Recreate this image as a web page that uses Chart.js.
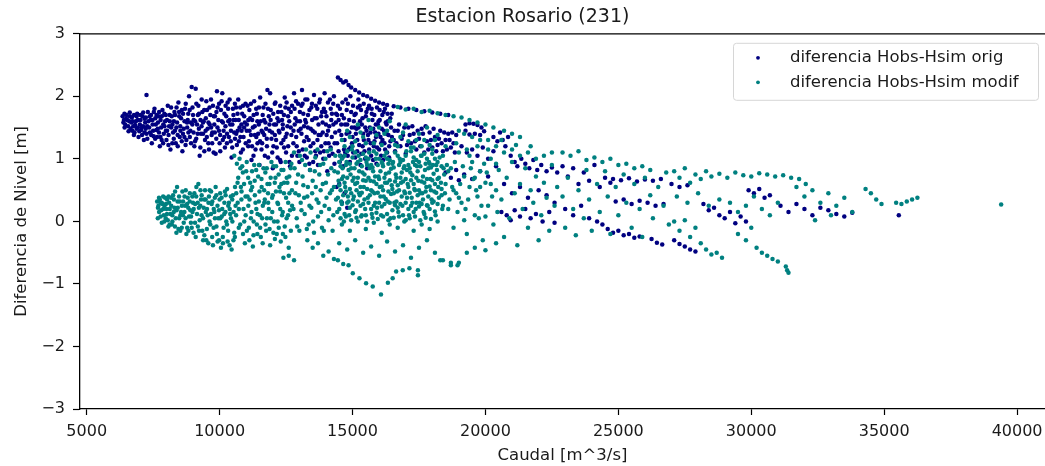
<!DOCTYPE html>
<html>
<head>
<meta charset="utf-8">
<title>Estacion Rosario (231)</title>
<script src="https://cdn.jsdelivr.net/npm/chart.js@4.4.1/dist/chart.umd.min.js"></script>
<style>
    html, body { margin: 0; padding: 0; background: #fff; }
    #wrap { width: 1045px; height: 466px; }
</style>
</head>
<body>
<div id="wrap"><canvas id="chart" width="1045" height="466"></canvas></div>
<script>
const chartTitle = 'Estacion Rosario (231)';
const xTitle = 'Caudal [m^3/s]';
const yTitle = 'Diferencia de Nivel [m]';
const seriesLabels = ['diferencia Hobs-Hsim orig', 'diferencia Hobs-Hsim modif'];
const seriesColors = ['#000080', '#008080'];

const xTicks = [5000, 10000, 15000, 20000, 25000, 30000, 35000, 40000];
const yTicks = [-3, -2, -1, 0, 1, 2, 3];

// [caudal, diferencia], serie original
const origPoints = [
    [6350,1.68],[6400,1.62],[6450,1.55],[6500,1.7],[6600,1.6],[6650,1.48],[6700,1.66],[6750,1.52],[6800,1.42],[6850,1.6],
    [6900,1.72],[6950,1.35],[7000,1.55],[7050,1.46],[7100,1.68],[7150,1.3],[7200,1.58],[7250,2.02],[7250,1.4],[7300,1.75],
    [7350,1.5],[7400,1.62],[7450,1.25],[7500,1.45],[7550,1.8],[7600,1.55],[7650,1.35],[7700,1.68],[7750,1.2],[7800,1.5],
    [7850,1.78],[7900,1.4],[7950,1.6],[8000,1.3],[8050,1.85],[8100,1.52],[8150,1.15],[8200,1.68],[8250,1.42],[8300,1.75],
    [8350,1.25],[8400,1.58],[8450,1.9],[8500,1.35],[8550,1.65],[8600,1.12],[8650,1.48],[8700,1.8],[8750,1.3],[8800,1.62],
    [8850,2.0],[8900,1.45],[8950,2.15],[9000,1.7],[9050,1.2],[9100,2.12],[9150,1.55],[9200,1.85],[9250,1.05],[9300,1.4],
    [9350,1.75],[9400,1.6],[9450,1.3],[9500,1.92],[9550,1.48],[9600,1.15],[9650,1.7],[9700,1.38],[9750,1.85],[9800,1.55],
    [9850,1.08],[9900,2.08],[9950,1.62],[10000,1.25],[10050,1.78],[10100,2.05],[10150,1.45],[10200,1.18],[10250,1.68],[10300,1.9],
    [10350,1.35],[10400,1.55],[10450,1.02],[10500,1.8],[10550,1.42],[10600,1.62],[10650,1.22],[10700,1.95],[10750,1.5],[10800,1.1],
    [10850,1.72],[10900,1.35],[10950,1.58],[11050,1.85],[11100,1.28],[11150,1.65],[11200,0.98],[11250,1.5],[11300,1.92],[11350,1.15],
    [11400,1.72],[11450,1.4],[11500,0.9],[11550,1.6],[11600,1.25],[11650,1.82],[11700,1.05],[11750,1.48],[11800,2.1],[11850,1.68],
    [11900,2.05],[11950,1.32],[12000,0.85],[12050,1.55],[12100,1.9],[12150,1.18],[12200,1.75],[12250,1.42],[12300,0.95],[12350,1.62],
    [12400,1.3],[12450,1.98],[12500,1.1],[12550,1.52],[12600,1.8],[12650,0.88],[12700,1.38],[12800,2.05],[12850,1.65],[12900,1.2],
    [12950,1.88],[13000,0.95],[13050,1.48],[13100,2.1],[13150,1.72],[13200,1.05],[13250,1.58],[13300,1.95],[13350,1.3],[13400,0.82],
    [13450,1.82],[13500,1.45],[13550,2.02],[13600,1.12],[13650,1.65],[13700,0.9],[13750,1.9],[13800,1.38],[13850,1.75],[13900,1.0],
    [13950,2.05],[14000,1.55],[14050,0.8],[14100,1.25],[14150,1.95],[14200,1.62],[14250,1.08],[14300,2.0],[14350,1.42],
    [6380,1.58],[6420,1.72],[6480,1.64],[6560,1.52],[6620,1.74],[6680,1.58],[6720,1.45],[6780,1.7],[6820,1.54],[6880,1.48],
    [6920,1.62],[6980,1.44],[7020,1.7],[7080,1.38],[7120,1.52],[7180,1.64],[7220,1.48],[7280,1.32],[7320,1.6],[7380,1.42],
    [7420,1.7],[7480,1.55],[7520,1.36],[7580,1.65],[7620,1.46],[7680,1.58],
    [7720,1.42],[7780,1.62],[7820,1.3],[7880,1.55],[7920,1.72],[7980,1.45],[8020,1.62],[8080,1.38],[8120,1.7],[8180,1.5],
    [8220,1.25],[8280,1.6],[8320,1.45],[8380,1.82],[8420,1.38],[8480,1.68],[8520,1.52],[8580,1.78],[8620,1.4],[8680,1.6],
    [8720,1.22],[8780,1.5],[8820,1.72],[8880,1.35],[8920,1.58],[8980,1.82],[9020,1.42],[9080,1.6],[9120,1.32],[9180,1.7],
    [9220,1.48],[9280,1.62],
    [6425,1.5],[6525,1.62],[6575,1.44],[6625,1.68],[6725,1.6],[6775,1.38],[6875,1.68],[6925,1.5],[7025,1.62],[7075,1.5],
    [7125,1.74],[7175,1.42],[7225,1.66],[7275,1.52],[7375,1.68],[7425,1.38],[7475,1.62],[7525,1.75],[7575,1.32],[7625,1.7],
    [7675,1.48],[7725,1.75],[7775,1.35],[7825,1.68],[7875,1.25],[7925,1.52],[7975,1.7],[8025,1.45],[8075,1.22],[8125,1.6],
    [8175,1.82],[8225,1.55],[8275,1.32],[8325,1.7],[8375,1.5],[8425,1.2],[8475,1.75],[8525,1.45],[8575,1.28],[8625,1.72],
    [8675,1.35],[8725,1.88],[8775,1.58],[8825,1.42],[8875,1.78],[8925,1.25],[8975,1.55],
    [9320,1.52],[9380,1.4],[9420,1.78],[9480,1.65],[9520,1.35],[9580,1.58],[9620,1.82],[9680,1.5],[9720,1.25],[9780,1.68],
    [9820,1.42],[9880,1.75],[9920,1.5],[9980,1.88],[10020,1.38],[10080,1.6],[10120,1.3],[10180,1.72],[10220,1.52],[10280,1.4],
    [10320,1.8],[10380,1.62],[10420,1.28],[10480,1.55],[10520,1.7],[10580,1.32],[10620,1.82],[10680,1.45],[10720,1.62],[10780,1.35],
    [10820,1.55],[10880,1.85],[10920,1.5],[10980,1.25],
    [9025,1.62],[9075,1.28],[9125,1.88],[9175,1.4],[9225,1.72],[9275,1.18],[9325,1.95],[9375,1.58],[9425,1.12],[9475,1.45],
    [9525,1.78],[9575,1.25],[9625,1.55],[9675,1.95],[9725,1.42],[9775,1.1],[9825,1.68],[9875,1.32],[9925,1.82],[9975,1.45],
    [10025,1.12],[10075,1.92],[10125,1.58],[10175,1.35],[10225,1.85],[10275,1.25],[10325,1.6],[10375,1.95],[10425,1.45],[10475,1.18],
    [10525,1.62],[10575,1.88],[10625,1.4],[10675,1.72],[10725,1.28],[10775,1.82],[10825,1.45],[10875,1.15],[10925,1.68],[10975,1.88],
    [11020,1.45],[11080,1.62],[11120,1.78],[11180,1.38],[11220,1.2],[11280,1.7],[11320,1.52],[11380,1.35],[11420,1.6],[11480,1.82],
    [11520,1.28],[11580,1.45],[11620,1.7],[11680,1.38],[11720,1.58],[11780,1.2],[11820,1.8],[11880,1.45],[11920,1.62],[11980,1.1],
    [12020,1.72],[12080,1.38],[12120,1.55],[12180,1.02],[12220,1.6],[12280,1.85],[12320,1.25],[12380,1.48],[12420,1.7],[12480,1.35],
    [12520,1.9],[12580,1.2],[12620,1.6],[12680,1.75],[12720,1.05],
    [11025,1.55],[11075,1.2],[11125,1.45],[11175,1.88],[11225,1.62],[11275,1.05],[11325,1.38],[11375,1.8],[11425,1.25],[11475,1.55],
    [11525,1.98],[11575,1.15],[11625,1.42],[11675,1.62],[11725,1.88],[11775,1.32],[11825,1.02],[11875,1.55],[11925,1.78],[11975,1.42],
    [12025,1.2],[12075,1.88],[12125,1.3],[12175,1.65],[12225,1.45],[12275,0.98],[12325,1.75],[12375,1.55],[12425,1.18],[12475,1.82],
    [12525,1.4],[12575,1.68],[12625,0.95],[12675,1.5],[12725,1.85],
    [12780,1.45],[12820,1.8],[12880,1.35],[12920,1.6],[12980,1.12],[13020,1.75],[13080,1.4],[13120,1.88],[13180,1.28],[13220,1.62],
    [13280,1.02],[13320,1.5],[13380,1.78],[13420,1.2],[13480,1.62],[13520,0.95],[13580,1.42],[13620,1.85],[13680,1.3],[13720,1.55],
    [13780,1.1],[13820,1.68],[13880,1.42],[13920,1.8],[13980,1.25],[14020,1.68],[14080,1.45],[14120,1.05],[14180,1.8],[14220,1.35],
    [14280,1.55],[14320,0.92],[14380,1.72],
    [12775,1.25],[12825,1.55],[12875,1.92],[12925,1.05],[12975,1.45],[13025,1.6],[13075,1.85],[13125,1.15],[13175,1.52],[13225,1.95],
    [13275,1.35],[13325,1.7],[13375,0.92],[13425,1.48],[13475,1.88],[13525,1.25],[13575,1.65],[13625,1.05],[13675,1.8],[13725,1.38],
    [13775,1.95],[13825,1.2],[13875,1.58],[13925,1.12],[13975,1.75],[14025,1.38],[14075,1.9],[14125,1.52],[14175,1.18],[14225,1.72],
    [14275,1.88],[14325,1.25],[14375,1.58],
    [14450,2.3],[14550,2.26],[14650,2.22],[14750,2.24],[14850,2.18],[14950,2.14],[15100,2.1],[15250,2.06],[15400,2.02],[15550,2.0],
    [15700,1.96],[15850,1.93],[16000,1.9],[16150,1.88],[16300,1.86],
    [14450,1.85],[14500,1.45],[14550,1.05],[14600,1.7],[14650,0.88],[14700,1.3],[14750,1.95],[14800,1.55],[14850,1.15],[14900,0.95],
    [14950,1.75],[15000,1.35],[15050,1.6],[15100,1.02],[15150,1.48],[15200,1.82],[15250,1.22],[15300,0.9],[15350,1.55],[15400,1.4],
    [15450,1.12],[15500,1.68],[15550,0.85],[15600,1.3],[15650,1.5],[15700,1.05],[15750,1.62],[15800,1.2],[15850,1.42],[15900,0.92],
    [15950,1.55],[16000,1.15],[16050,1.35],[16100,1.48],[16150,0.98],[16200,1.25],[16250,1.58],[16300,1.1],[16350,1.38],[16450,1.5],
    [14420,1.25],[14480,1.62],[14520,0.95],[14580,1.38],[14620,1.9],[14680,1.15],[14720,1.55],[14780,1.78],[14820,1.05],[14880,1.42],
    [14920,2.0],[14980,1.25],[15020,1.85],[15080,1.5],[15120,1.72],[15180,1.3],[15220,1.95],[15280,1.6],[15320,1.78],[15380,1.2],
    [15420,1.88],[15480,1.5],[15520,1.75],[15580,1.38],[15620,1.85],[15680,1.25],[15720,1.8],[15780,1.48],[15820,1.7],[15880,1.35],
    [15920,1.82],[15980,1.6],[16020,1.78],[16080,1.25],[16120,1.7],[16180,1.45],[16220,1.8],[16280,1.55],[16320,1.72],[16380,1.2],
    [16420,1.65],[16480,1.35],
    [14425,1.7],[14475,1.12],[14525,1.8],[14575,1.55],[14625,1.02],[14675,1.65],[14725,1.1],[14775,1.4],[14825,1.88],[14875,1.62],
    [14925,1.18],[14975,1.5],[15025,1.1],[15075,1.7],[15125,1.4],[15175,1.12],[15225,1.5],[15275,1.85],[15325,1.08],[15375,1.65],
    [15425,1.3],[15475,1.0],[15525,1.45],[15575,1.8],[15625,1.15],[15675,1.42],[15725,1.72],[15775,0.98],[15825,1.28],[15875,1.55],
    [15925,1.18],[15975,1.4],[16025,1.62],[16075,1.05],[16125,1.3],[16175,1.75],[16225,1.15],[16275,1.4],[16325,1.6],[16375,1.02],
    [16425,1.28],[16475,1.72],
    [14400,0.55],[14500,0.6],[14600,0.3],[14700,0.45],[14800,0.22],
    [16550,1.84],[16800,1.82],[17100,1.8],[17400,1.78],[17700,1.76],[18000,1.74],[18300,1.72],[18600,1.7],
    [16550,1.3],[16600,1.12],[16700,1.45],[16800,1.2],[16900,1.38],[17000,1.08],[17100,1.5],[17200,1.25],[17300,1.4],[17400,1.15],
    [17500,1.32],[17600,1.48],[17700,1.1],[17800,1.28],[17900,1.42],[18000,1.18],[18100,1.35],[18200,1.22],[18300,1.45],[18400,1.12],
    [18500,1.3],[18600,1.4],[18700,1.18],[18800,1.25],[18900,1.38],
    [16580,1.45],[16650,1.25],[16750,1.55],[16850,1.32],[16950,1.5],[17050,1.22],[17150,1.38],[17250,1.52],[17350,1.28],[17450,1.45],
    [17550,1.2],[17650,1.4],[17750,1.52],[17850,1.15],[17950,1.3],[18050,1.48],[18150,1.12],[18250,1.32],[18350,1.25],[18450,1.42],
    [18550,1.15],[18650,1.3],[18750,1.42],[18850,1.1],
    [18500,0.78],[18700,0.7],[18900,0.82],[19000,0.66],
    [19250,1.55],[19400,1.57],[19550,1.56],[19700,1.54],[19850,1.5],[19950,1.44],[19800,1.38],[19600,1.4],[19400,1.39],[19250,1.45],
    [19100,1.2],[19300,1.1],[19500,1.15],[19700,1.05],[19900,1.18],[20100,1.0],[20300,1.12],[20450,1.28],[20300,1.35],
    [19200,0.75],[19500,0.68],[19800,0.8],[20100,0.72],[20400,0.88],
    [20550,1.42],[20650,1.3],[20750,1.2],[20850,1.35],[20950,1.05],[21100,0.95],[21200,0.88],[21350,1.0],[21500,0.92],[21650,0.85],
    [21800,0.98],[21950,0.82],[22100,0.9],[22300,0.8],[22500,0.86],[22700,0.78],
    [20600,0.15],[20800,0.1],[20950,0.02],[21100,0.18],[21300,0.08],[21500,0.2],[21700,0.05],[21900,0.12],[22150,0.0],[22400,0.15],
    [22600,-0.02],[20700,0.6],[21000,0.45],[21300,0.55],[21600,0.38],[22000,0.5],[22300,0.42],[22600,0.3],
    [22900,0.88],[23100,0.72],[23300,0.85],[23500,0.6],[23700,0.78],[23900,0.65],[24100,0.9],[24300,0.55],[24500,0.7],[24700,0.62],
    [23000,0.2],[23300,0.1],[23600,0.25],[23900,0.05],[24200,0.0],[24400,-0.05],[24600,-0.12],[24800,-0.18],[25000,-0.15],[25200,-0.22],
    [25400,-0.2],[25600,-0.26],[25800,-0.24],
    [24800,0.68],[25100,0.66],[25400,0.69],[25700,0.64],[26000,0.67],[26300,0.65],[26600,0.68],
    [24900,0.32],[25200,0.35],[25500,0.28],[25800,0.33],[26100,0.3],[26400,0.25],[26700,0.28],
    [26250,-0.28],[26450,-0.34],[26650,-0.37],[27100,-0.3],[27300,-0.36],[27500,-0.4],[27700,-0.45],[27900,-0.48],
    [27000,0.6],[27300,0.55],[27600,0.58],
    [28200,0.28],[28400,0.18],[28600,0.22],[28800,0.1],[29000,0.05],[29200,0.15],[29400,-0.03],[29600,0.08],[29800,0.0],
    [29900,0.5],[30100,0.45],[30300,0.52],[30500,0.38],[30700,0.42],
    [31100,0.25],[31400,0.15],[31700,0.28],[32000,0.2],[32300,0.1],[32600,0.22],[32900,0.18],[33200,0.12],[33500,0.08],[33800,0.14],
    [35550,0.1]
];

// [caudal, diferencia], serie modificada
const modifPoints = [
    [7650,0.32],[7700,0.25],[7750,0.35],[7800,0.18],[7850,0.28],[7900,0.1],[7950,0.38],[8000,0.2],[8050,0.02],[8100,0.3],
    [8150,0.12],[8200,-0.05],[8250,0.42],[8300,0.22],[8350,0.05],[8400,0.55],[8450,-0.12],[8500,0.32],[8550,0.15],[8600,0.48],
    [8650,-0.02],[8700,0.25],[8750,-0.2],[8800,0.38],[8850,0.08],[8900,0.18],[8950,-0.1],[9000,0.3],[9050,0.45],[9100,-0.25],
    [9150,0.12],[9200,0.6],[9250,0.02],[9300,0.35],[9350,-0.15],[9400,0.22],[9450,0.5],[9500,-0.3],[9550,0.1],[9600,0.4],
    [9650,-0.05],[9700,0.28],[9750,-0.38],[9800,0.15],[9850,0.55],[9900,-0.2],[9950,0.05],[10000,0.35],[10050,-0.42],[10100,0.2],
    [10150,-0.1],[10200,0.48],[10250,0.0],[10300,-0.32],[10350,0.3],[10400,0.12],[10450,-0.45],[10500,0.42],[10550,-0.18],[10600,0.25],
    [7680,0.22],[7720,0.38],[7780,0.08],[7820,0.3],[7880,0.2],[7920,0.0],[7980,0.28],[8020,0.12],[8080,0.4],[8120,-0.05],
    [8180,0.25],[8220,0.1],[8280,0.35],[8320,-0.08],[8380,0.18],[8420,0.32],[8480,0.05],[8520,-0.15],[8580,0.25],[8620,0.1],
    [8680,0.4],[8720,0.05],[8780,-0.1],[8820,0.22],[8880,0.45],[8920,-0.02],[8980,0.15],[9020,-0.18],[9080,0.28],[9120,0.4],
    [9180,-0.08],[9220,0.22],[9280,0.5],[9320,0.1],[9380,-0.3],[9420,0.35],[9480,0.15],[9520,-0.12],[9580,0.3],[9620,0.0],
    [9680,0.48],[9720,-0.25],[9780,0.2],[9820,0.38],[9880,-0.08],[9920,0.25],[9980,-0.3],[10020,0.45],[10080,0.08],[10120,-0.25],
    [10180,0.3],[10220,0.15],[10280,0.52],[10320,-0.15],[10380,0.2],[10420,0.4],[10480,0.0],[10520,-0.3],[10580,0.55],[10620,0.1],
    [7675,0.05],[7725,0.15],[7775,0.3],[7825,-0.02],[7875,0.4],[7925,0.25],[7975,0.05],[8025,0.35],[8075,-0.08],[8125,0.2],
    [8175,0.38],[8225,0.0],[8275,0.15],[8325,0.48],[8375,-0.18],[8425,0.22],[8475,0.4],[8525,0.1],[8575,-0.1],[8625,0.32],
    [8675,0.15],[8725,0.5],[8775,0.28],[8825,-0.15],[8875,0.32],[8925,0.08],[8975,0.4],[9025,0.2],[9075,-0.02],[9125,0.55],
    [9175,0.3],[9225,-0.15],[9275,0.25],[9325,0.42],[9375,0.05],[9425,-0.22],[9475,0.35],[9525,0.2],[9575,-0.35],[9625,0.5],
    [9675,0.12],[9725,0.32],[9775,-0.1],[9825,0.05],[9875,0.42],[9925,-0.32],[9975,0.18],[10025,0.05],[10075,0.38],[10125,-0.35],
    [10175,0.12],[10225,0.42],[10275,-0.05],[10325,0.25],[10375,-0.38],[10425,0.05],[10475,0.35],[10525,0.15],[10575,-0.25],[10625,0.45],
    [10550,1.05],[10650,0.92],[10750,1.0],[10850,0.88],[10700,0.7],[10800,0.55],[10900,0.2],[10950,-0.35],[11000,0.8],[11050,0.4],
    [11100,-0.1],[11150,0.62],[11200,0.15],[11250,-0.4],[11300,0.9],[11350,0.3],[11400,-0.05],[11450,0.72],[11500,0.48],[11550,-0.25],
    [11600,0.05],[11650,0.85],[11700,0.35],[11750,-0.15],[11800,0.6],[11850,0.2],[11900,-0.38],[11950,0.95],[12000,0.42],[12050,0.0],
    [12100,0.7],[12150,-0.2],[12200,0.28],[12250,0.55],[12300,-0.32],[12350,0.1],[12400,0.82],[12450,-0.08],[12500,0.38],[12550,0.62],
    [12600,-0.42],[12650,0.18],[12700,0.92],[12400,-0.58],[12600,-0.55],[12800,-0.62],
    [10680,0.3],[10720,-0.1],[10780,0.85],[10820,0.35],[10880,-0.2],[10920,0.6],[10980,0.1],[11020,0.95],[11080,0.25],[11120,-0.3],
    [11180,0.5],[11220,0.8],[11280,0.0],[11320,0.65],[11380,0.2],[11420,-0.2],[11480,0.9],[11520,0.1],[11580,0.55],[11620,-0.35],
    [11680,0.3],[11720,0.78],[11780,0.05],[11820,0.45],[11880,-0.12],[11920,0.7],[11980,0.15],[12020,0.88],[12080,-0.28],[12120,0.48],
    [12180,0.0],[12220,0.75],[12280,0.2],[12320,0.6],[12380,-0.2],[12420,0.45],[12480,0.95],[12520,0.05],[12580,0.3],[12620,0.72],
    [12680,-0.15],[12720,0.5],
    [10675,0.62],[10725,0.2],[10775,-0.05],[10825,0.48],[10875,0.78],[10925,0.0],[10975,0.4],[11025,-0.15],[11075,0.7],[11125,0.35],
    [11175,0.05],[11225,0.55],[11275,-0.22],[11325,0.42],[11375,0.82],[11425,0.12],[11475,0.32],[11525,-0.1],[11575,0.68],[11625,0.25],
    [11675,0.5],[11725,-0.05],[11775,0.85],[11825,0.3],[11875,0.6],[11925,0.05],[11975,0.38],[12025,-0.18],[12075,0.62],[12125,0.88],
    [12175,0.3],[12225,-0.1],[12275,0.48],[12325,0.82],[12375,0.15],[12425,0.62],[12475,-0.25],[12525,0.7],[12575,0.1],[12625,0.45],
    [12675,0.85],[12725,0.25],
    [12800,1.1],[12850,0.45],[12900,0.05],[12950,0.75],[13000,-0.15],[13050,0.3],[13100,0.98],[13150,0.58],[13200,0.12],[13250,1.15],
    [13300,0.4],[13350,-0.05],[13400,0.82],[13450,0.22],[13500,0.65],[13550,-0.18],[13600,1.02],[13650,0.35],[13700,0.08],[13750,0.75],
    [13800,0.5],[13850,-0.1],[13900,0.92],[13950,0.25],[14000,0.62],[14050,1.12],[14100,0.02],[14150,0.45],[14200,0.85],[14250,-0.15],
    [14300,0.55],[14350,1.05],
    [12780,0.2],[12820,0.85],[12880,0.62],[12920,-0.08],[12980,0.42],[13020,1.05],[13080,0.18],[13120,0.72],[13180,0.38],[13220,0.9],
    [13280,-0.12],[13320,0.55],[13380,0.25],[13420,1.1],[13480,0.45],[13520,0.0],[13580,0.8],[13620,0.55],[13680,1.15],[13720,0.3],
    [13780,0.9],[13820,0.15],[13880,0.6],[13920,-0.15],[13980,1.0],[14020,0.38],[14080,0.75],[14120,0.2],[14180,1.15],[14220,0.5],
    [14280,0.1],[14320,0.8],[14380,0.35],
    [13300,-0.3],[13500,-0.42],[13700,-0.35],[13900,-0.55],[14100,-0.48],[14300,-0.6],
    [14500,0.95],[14700,1.05],[14900,0.92],[15100,1.1],[15300,0.98],[15500,1.02],[15700,0.9],[15900,1.08],[16100,0.95],[16300,1.0],
    [16500,0.92],[16700,1.05],[16900,0.98],[17100,0.9],[17300,1.02],[17500,0.95],[17700,1.08],[17900,0.92],[18100,1.0],
    [14600,1.0],[14800,1.12],[15000,1.02],[15200,0.95],[15400,1.08],[15600,1.0],[15800,1.12],[16000,1.0],[16200,1.05],[16400,0.98],
    [16600,1.1],[16800,0.95],[17000,1.05],[17200,1.12],[17400,0.98],[17600,1.05],[17800,1.0],[18000,1.08],[18200,0.95],
    [14550,0.88],[14750,0.9],[14950,0.85],[15150,0.92],[15350,0.88],[15550,0.9],[15750,0.86],[15950,0.9],[16150,0.88],[16350,0.92],
    [16550,0.86],[16750,0.9],[16950,0.88],[17150,0.85],[17350,0.9],[17550,0.88],[17750,0.92],[17950,0.86],[18150,0.9],[18350,0.88],
    [14450,0.78],[14650,0.72],[14850,0.82],[15050,0.7],[15250,0.8],[15450,0.75],[15650,0.85],[15850,0.72],[16050,0.8],[16250,0.76],
    [16450,0.84],[16650,0.7],[16850,0.78],[17050,0.82],[17250,0.74],[17450,0.8],[17650,0.72],[17850,0.85],[18050,0.76],[18250,0.7],
    [14600,0.68],[14800,0.7],[15000,0.65],[15200,0.7],[15400,0.66],[15600,0.7],[15800,0.64],[16000,0.68],[16200,0.7],[16400,0.66],
    [16600,0.64],[16800,0.7],[17000,0.68],[17200,0.66],[17400,0.7],[17600,0.64],[17800,0.68],[18000,0.66],[18200,0.68],
    [14500,0.58],[14700,0.62],[14900,0.52],[15100,0.6],[15300,0.55],[15500,0.65],[15700,0.5],[15900,0.6],[16100,0.56],[16300,0.62],
    [16500,0.52],[16700,0.58],[16900,0.64],[17100,0.55],[17300,0.6],[17500,0.5],[17700,0.62],[17900,0.56],[18100,0.6],
    [14550,0.5],[14750,0.48],[14950,0.45],[15150,0.5],[15350,0.46],[15550,0.52],[15750,0.48],[15950,0.46],[16150,0.5],[16350,0.48],
    [16550,0.45],[16750,0.5],[16950,0.48],[17150,0.46],[17350,0.5],[17550,0.45],[17750,0.48],[17950,0.5],[18150,0.46],[18350,0.52],
    [14450,0.38],[14650,0.42],[14850,0.32],[15050,0.4],[15250,0.45],[15450,0.35],[15650,0.42],[15850,0.3],[16050,0.4],[16250,0.36],
    [16450,0.44],[16650,0.32],[16850,0.4],[17050,0.38],[17250,0.3],[17450,0.42],[17650,0.35],[17850,0.4],[18050,0.32],[18250,0.38],
    [14600,0.28],[14800,0.3],[15000,0.26],[15200,0.32],[15400,0.28],[15600,0.3],[15800,0.25],[16000,0.3],[16200,0.28],[16400,0.3],
    [16600,0.26],[16800,0.28],[17000,0.3],[17200,0.25],[17400,0.3],[17600,0.28],[17800,0.26],[18000,0.3],[18200,0.28],
    [14500,0.2],[14700,0.12],[14900,0.22],[15100,0.15],[15300,0.25],[15500,0.1],[15700,0.2],[15900,0.14],[16100,0.24],[16300,0.12],
    [16500,0.18],[16700,0.22],[16900,0.1],[17100,0.2],[17300,0.15],[17500,0.24],[17700,0.12],[17900,0.2],[18100,0.16],
    [14550,0.05],[14750,0.08],[14950,0.02],[15150,0.06],[15350,0.1],[15550,0.0],[15750,0.06],[15950,0.04],[16150,0.08],[16350,0.02],
    [16550,0.06],[16750,0.08],[16950,0.0],[17150,0.05],[17350,0.08],[17550,0.02],[17750,0.06],[17950,0.04],
    [14425,0.15],[14475,0.65],[14525,1.05],[14575,0.32],[14625,0.85],[14675,0.0],[14725,0.55],[14775,0.95],[14825,0.4],[14875,0.1],
    [14925,0.75],[14975,1.15],[15025,0.35],[15075,0.85],[15125,0.18],[15175,0.62],[15225,1.05],[15275,0.42],[15325,0.08],[15375,0.78],
    [15425,0.55],[15475,0.2],[15525,0.95],[15575,0.38],[15625,1.1],[15675,0.65],[15725,0.12],[15775,0.8],[15825,0.45],[15875,1.0],
    [15925,0.22],[15975,0.72],[16025,0.55],[16075,0.1],[16125,0.92],[16175,0.4],[16225,0.62],[16275,1.1],[16325,0.32],[16375,0.78],
    [16425,0.05],[16475,0.58],[16525,0.95],[16575,0.3],[16625,0.75],[16675,0.48],[16725,0.15],[16775,1.0],[16825,0.62],[16875,0.25],
    [16925,0.85],[16975,0.45],[17025,1.12],[17075,0.6],[17125,0.1],[17175,0.78],[17225,0.38],[17275,0.95],[17325,0.52],[17375,0.2],
    [17425,0.88],[17475,0.65],[17525,0.3],[17575,1.05],[17625,0.45],[17675,0.15],[17725,0.82],[17775,0.55],[17825,0.25],[17875,0.95],
    [17925,0.68],[17975,0.35],[18025,0.9],[18075,0.48],[18125,0.1],[18175,0.82],[18225,0.55],[18275,1.02],[18325,0.62],[18375,0.2],
    [18425,0.85],[18475,0.45],
    [14600,-0.05],[14900,-0.15],[15200,0.0],[15500,-0.12],[15800,-0.02],[16100,-0.18],[16400,-0.05],[16700,-0.1],[17000,0.02],[17300,-0.15],
    [17600,-0.05],[17900,-0.12],[18200,0.0],
    [14500,-0.35],[14800,-0.45],[15100,-0.3],[15400,-0.5],[15700,-0.4],[16000,-0.55],[16300,-0.32],[16600,-0.48],[16900,-0.38],[17200,-0.58],
    [17500,-0.42],[17800,-0.3],[18100,-0.5],[18400,-0.62],[18700,-0.66],[18950,-0.7],
    [14450,-0.62],[14650,-0.68],[14850,-0.7],[15010,-0.83],[15260,-0.91],[15510,-0.99],[15760,-1.04],[16070,-1.17],[16330,-0.98],[16510,-0.91],
    [16640,-0.8],[16890,-0.78],[17140,-0.75],[17460,-0.78],[17460,-0.86],
    [14600,1.3],[14800,1.45],[15000,1.2],[15200,1.55],[15400,1.35],[15600,1.62],[15800,1.25],[16000,1.5],[16200,1.4],[16400,1.6],
    [16600,1.22],[16800,1.35],[17000,1.55],[17200,1.18],[17400,1.3],[17600,1.2],[17800,1.5],[18000,1.15],[18200,1.38],
    [14700,1.2],[14900,1.35],[15100,1.28],[15300,1.42],[15500,1.25],[15700,1.48],[15900,1.38],[16100,1.22],[16300,1.45],[16500,1.3],
    [16700,1.2],[16900,1.42],[17100,1.28],[17300,1.18],[17500,1.4],[17700,1.3],[17900,1.22],[18100,1.3],
    [16700,1.83],[17000,1.79],[17300,1.8],[17600,1.75],[17900,1.77],[18200,1.73],[18500,1.7],[18800,1.68],[19100,1.66],[19400,1.62],
    [19700,1.58],[20000,1.55],[20300,1.5],[20700,1.45],[21000,1.4],[21300,1.35],
    [19000,1.45],[19200,1.4],[19500,1.35],[19800,1.3],[20100,1.15],[20400,1.2],[20700,1.1],[21000,1.15],[21300,1.05],[21600,1.1],
    [21900,1.0],[22200,1.05],[22500,1.1],[20600,1.3],[21150,1.22],[21700,1.2],
    [18400,1.05],[18500,0.6],[18600,0.2],[18700,0.85],[18800,-0.1],[18900,0.45],[19000,1.1],[19100,0.3],[19200,0.72],[19300,-0.2],
    [19400,0.55],[19500,0.95],[19600,0.1],[19700,0.4],[19800,0.8],[19900,-0.3],[20000,0.62],[20100,0.25],[20200,1.0],[20300,-0.05],
    [20400,0.5],[20500,0.82],[20600,0.35],[20700,-0.25],[20800,0.7],[20900,0.05],[21000,0.95],[21100,0.45],[21200,-0.38],[21300,0.6],
    [21400,0.2],[21500,0.85],[21600,-0.1],[21700,0.5],[21800,0.3],[21900,0.72],[22000,-0.3],[22100,0.1],[22200,0.62],[22300,0.38],
    [22400,-0.15],[22500,0.9],[22600,0.25],[22700,0.55],
    [18350,0.42],[18550,0.9],[18750,0.55],[18950,0.15],[19150,0.88],[19350,0.35],[19550,0.68],[19750,0.05],[19950,0.92],
    [18450,0.75],[18650,0.35],[18850,0.95],[19050,0.6],[19250,0.2],[19450,0.85],[19650,0.5],[19850,0.25],[20050,0.78],[20250,0.4],
    [20450,0.15],[18400,0.25],[18600,0.8],[18800,0.5],[19000,0.38],[19200,0.02],[19400,1.05],[19600,0.7],[19800,0.55],[20000,0.08],
    [20200,0.6],[20400,0.92],[18500,1.2],[18900,1.25],[19300,1.15],[19700,1.2],[20100,1.3],
    [18300,-0.62],[18700,-0.7],[19000,-0.66],[19300,-0.5],[19600,-0.42],[20000,-0.46],[20400,-0.35],
    [22900,1.1],[23200,1.05],[23500,1.12],[23800,0.98],[24100,1.02],[24400,0.95],[24700,1.0],[25000,0.9],[25300,0.92],[25600,0.85],
    [25900,0.88],[26200,0.82],
    [22900,0.4],[23000,-0.1],[23100,0.7],[23300,0.2],[23400,-0.22],[23500,0.5],[23700,0.05],[23800,0.82],[23900,0.35],[24000,-0.15],
    [24200,0.6],[24300,0.15],[24500,0.8],[24600,0.4],[24700,-0.2],[24900,0.55],[25000,0.1],[25200,0.75],[25300,0.3],[25500,-0.1],
    [25600,0.6],[25800,0.2],[25900,-0.25],[26000,0.7],[26200,0.42],[26300,0.05],[26500,0.55],[26700,0.25],[26800,0.78],[26900,-0.05],
    [27100,0.8],[27300,0.7],[27500,0.85],[27700,0.62],[27900,0.75],[28100,0.68],[28300,0.8],
    [27100,0.0],[27300,-0.15],[27500,0.02],[27700,-0.25],[27900,-0.1],[28100,-0.35],[28300,-0.45],[28500,-0.53],[28700,-0.5],[28900,-0.58],
    [27200,0.4],[27600,0.3],[28000,0.45],[28400,0.25],[28800,0.35],
    [28500,0.72],[28800,0.76],[29100,0.7],[29400,0.78],[29700,0.74],[30000,0.72],[30300,0.77],[30600,0.75],[30900,0.72],[31200,0.74],
    [31500,0.7],[31800,0.68],[32050,0.6],
    [29200,0.3],[29500,0.15],[29800,0.25],[30100,0.4],[30400,0.2],[30700,0.1],[31000,0.3],
    [30200,-0.42],[30400,-0.5],[30600,-0.55],[30800,-0.6],[31000,-0.64],[31300,-0.72],[31350,-0.78],[31400,-0.82],
    [29500,-0.2],[29800,-0.3],[30000,-0.1],
    [31700,0.55],[32000,0.4],[32300,0.5],[32600,0.3],[32900,0.45],[33200,0.25],[33500,0.38],[33800,0.15],[32400,0.02],[33000,0.1],
    [34300,0.52],[34500,0.45],[34700,0.35],[34900,0.28],
    [35450,0.3],[35650,0.28],[35850,0.32],[36050,0.35],[36250,0.38],
    [39400,0.27]
];

const fontFamily = '"DejaVu Sans", sans-serif';
const minus = (v) => String(v).replace('-', '\u2212');

const topSpine = {
    id: 'topSpine',
    afterDraw(chart) {
        const { ctx, chartArea } = chart;
        ctx.save();
        ctx.strokeStyle = '#000';
        ctx.lineWidth = 1.3;
        ctx.beginPath();
        ctx.moveTo(chartArea.left, chartArea.top);
        ctx.lineTo(chartArea.right, chartArea.top);
        ctx.stroke();
        ctx.restore();
    },
};

const boxLegend = {
    id: 'boxLegend',
    afterDraw(chart) {
        const { ctx, chartArea } = chart;
        const x = chartArea.right - 312;
        const y = chartArea.top + 9;
        const w = 305;
        const h = 57;

        ctx.save();
        ctx.beginPath();
        ctx.roundRect(x + 0.5, y + 0.5, w, h, 3);
        ctx.fillStyle = 'rgba(255,255,255,0.8)';
        ctx.fill();
        ctx.strokeStyle = '#d6d6d6';
        ctx.lineWidth = 1;
        ctx.stroke();

        ctx.font = `16.5px ${fontFamily}`;
        ctx.textBaseline = 'middle';
        chart.data.datasets.forEach((ds, i) => {
            const rowY = y + 15 + i * 24.5;
            ctx.beginPath();
            ctx.arc(x + 25, rowY, 1.9, 0, Math.PI * 2);
            ctx.fillStyle = ds.backgroundColor;
            ctx.fill();
            ctx.fillStyle = '#1a1a1a';
            ctx.fillText(ds.label, x + 57, rowY);
        });
        ctx.restore();
    },
};

new Chart(document.getElementById('chart'), {
    type: 'scatter',
    data: {
        datasets: [
            {
                label: seriesLabels[0],
                data: origPoints.map(([x, y]) => ({ x, y })),
                backgroundColor: seriesColors[0],
                borderWidth: 0,
                pointRadius: 2.25,
                order: 1,
            },
            {
                label: seriesLabels[1],
                data: modifPoints.map(([x, y]) => ({ x, y })),
                backgroundColor: seriesColors[1],
                borderWidth: 0,
                pointRadius: 2.25,
                order: 0,
            },
        ],
    },
    options: {
        responsive: false,
        animation: false,
        devicePixelRatio: 1,
        layout: { padding: 0, autoPadding: false },
        plugins: {
            legend: { display: false },
            tooltip: { enabled: false },
            title: {
                display: true,
                text: chartTitle,
                color: '#1a1a1a',
                font: { family: fontFamily, size: 19, weight: 'normal' },
                padding: { top: 6, bottom: 5 },
            },
        },
        scales: {
            x: {
                type: 'linear',
                min: 4748,
                max: 41050,
                afterBuildTicks: (scale) => { scale.ticks = xTicks.map((value) => ({ value })); },
                afterFit: (scale) => {
                    scale.height = 57;
                    scale.paddingLeft = 0;
                    scale.paddingRight = 0;
                },
                grid: { display: true, drawOnChartArea: false, drawTicks: true, tickLength: 6, color: '#000', tickWidth: 1.2 },
                border: { display: true, color: '#000', width: 1.3 },
                ticks: {
                    color: '#1a1a1a',
                    padding: 7,
                    maxRotation: 0,
                    font: { family: fontFamily, size: 16 },
                    callback: (v) => minus(v),
                },
                title: {
                    display: true,
                    text: xTitle,
                    color: '#1a1a1a',
                    font: { family: fontFamily, size: 16.5 },
                    padding: { top: 0, bottom: 0 },
                },
            },
            y: {
                type: 'linear',
                min: -3,
                max: 3,
                afterBuildTicks: (scale) => { scale.ticks = yTicks.map((value) => ({ value })); },
                afterFit: (scale) => {
                    scale.width = 80;
                    scale.paddingTop = 0;
                    scale.paddingBottom = 0;
                },
                grid: { display: true, drawOnChartArea: false, drawTicks: true, tickLength: 7, color: '#000', tickWidth: 1.2 },
                border: { display: true, color: '#000', width: 1.3 },
                ticks: {
                    color: '#1a1a1a',
                    padding: 8,
                    font: { family: fontFamily, size: 16 },
                    callback: (v) => minus(v),
                },
                title: {
                    display: true,
                    text: yTitle,
                    color: '#1a1a1a',
                    font: { family: fontFamily, size: 16.5 },
                    padding: { top: 12, bottom: 0 },
                },
            },
        },
    },
    plugins: [topSpine, boxLegend],
});
</script>
</body>
</html>
